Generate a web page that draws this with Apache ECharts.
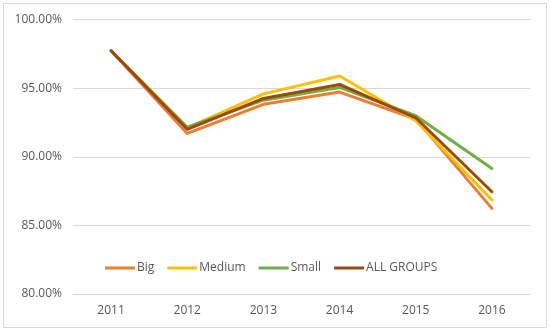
<!DOCTYPE html>
<html>
<head>
<meta charset="utf-8">
<script src="https://cdn.jsdelivr.net/npm/echarts@6/dist/echarts.min.js"></script>
<style>
  html, body { margin: 0; padding: 0; background: #fff; }
  #chart { width: 550px; height: 332px; }
</style>
</head>
<body>
<div id="chart"></div>
<script>
const years = ['2011', '2012', '2013', '2014', '2015', '2016']
const big = [97.72, 91.70, 93.82, 94.71, 92.75, 86.24]
const medium = [97.72, 92.10, 94.58, 95.88, 92.62, 86.85]
const small = [97.72, 92.15, 94.12, 95.05, 92.99, 89.15]
const allGroups = [97.72, 92.00, 94.25, 95.27, 92.84, 87.45]

const chart = echarts.init(document.getElementById('chart'))

function line(name, data, color) {
  return {
    name, type: 'line', data,
    showSymbol: false,
    lineStyle: { width: 3, color, cap: 'round', join: 'round' },
    itemStyle: { color }
  }
}

chart.setOption({
  backgroundColor: '#fff',
  animation: false,
  textStyle: { fontFamily: 'Open Sans', color: '#595959' },
  graphic: [{
    type: 'rect', silent: true,
    shape: { x: 3.5, y: 3.5, width: 543, height: 324 },
    style: { fill: 'none', stroke: '#d9d9d9', lineWidth: 1 }
  }],
  grid: { left: 73, right: 20, top: 19.5, bottom: 38 },
  legend: {
    left: 100, top: 257,
    itemWidth: 30, itemHeight: 3, itemGap: 13,
    icon: 'rect',
    textStyle: { fontSize: 12, color: '#595959', padding: [0, 0, 0, -3] },
    data: ['Big', 'Medium', 'Small', 'ALL GROUPS']
  },
  xAxis: {
    type: 'category', data: years, boundaryGap: true,
    axisLine: { lineStyle: { color: '#d9d9d9' } },
    axisTick: { show: false },
    axisLabel: { color: '#595959', fontSize: 12, margin: 11 }
  },
  yAxis: {
    type: 'value', min: 80, max: 100, interval: 5,
    axisLine: { show: false },
    axisTick: { show: false },
    splitLine: { lineStyle: { color: '#d9d9d9' } },
    axisLabel: { color: '#595959', fontSize: 12, margin: 11, formatter: v => v.toFixed(2) + '%' }
  },
  series: [
    line('Big', big, '#ED7D31'),
    line('Medium', medium, '#FFC000'),
    line('Small', small, '#70AD47'),
    line('ALL GROUPS', allGroups, '#9E480E')
  ]
})
</script>
</body>
</html>
